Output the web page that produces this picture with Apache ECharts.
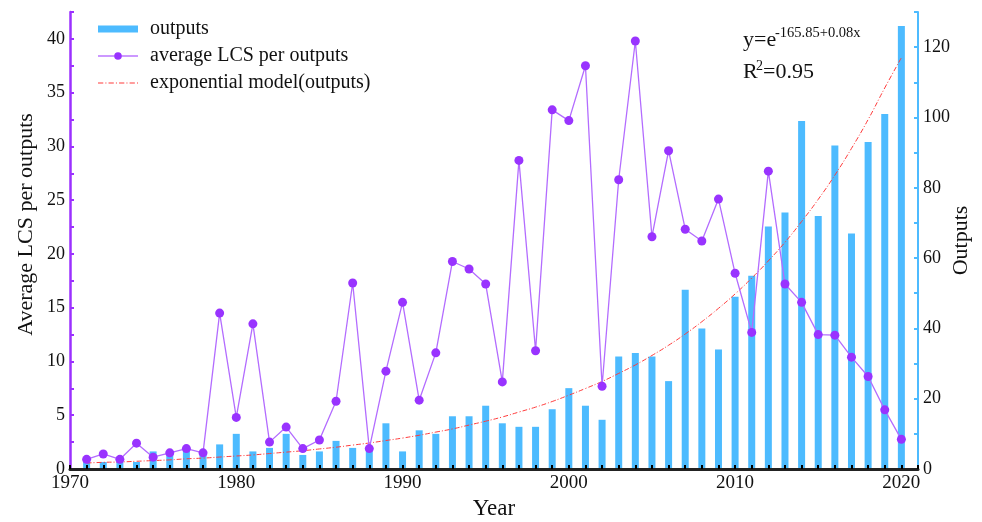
<!DOCTYPE html>
<html>
<head>
<meta charset="utf-8">
<script src="https://cdn.jsdelivr.net/npm/echarts@6/dist/echarts.min.js"></script>
<style>
html,body{margin:0;padding:0;background:#fff;}
#chart{width:982px;height:522px;}
</style>
</head>
<body>
<div id="chart"></div>
<script>
const years = [1971,1972,1973,1974,1975,1976,1977,1978,1979,1980,
  1981,1982,1983,1984,1985,1986,1987,1988,1989,1990,
  1991,1992,1993,1994,1995,1996,1997,1998,1999,2000,
  2001,2002,2003,2004,2005,2006,2007,2008,2009,2010,
  2011,2012,2013,2014,2015,2016,2017,2018,2019,2020];
const outputs = [2,2,2,2,5,5,6,4,7,10,
  5,6,10,4,5,8,6,6,13,5,
  11,10,15,15,18,13,12,12,17,23,
  18,14,32,33,32,25,51,40,34,49,
  55,69,73,99,72,92,67,93,101,126];
const avgLCS = [0.9,1.4,0.9,2.4,1.1,1.5,1.9,1.5,14.5,4.8,
  13.5,2.5,3.9,1.9,2.7,6.3,17.3,1.9,9.1,15.5,
  6.4,10.8,19.3,18.6,17.2,8.1,28.7,11.0,33.4,32.4,
  37.5,7.7,26.9,39.8,21.6,29.6,22.3,21.2,25.1,18.2,
  12.7,27.7,17.2,15.5,12.5,12.45,10.4,8.6,5.5,2.76];
const expModel = [1.7,1.9,2.0,2.2,2.4,2.6,2.9,3.1,3.4,3.7,
  4.0,4.4,4.8,5.2,5.7,6.2,6.8,7.4,8.1,8.8,
  9.6,10.5,11.4,12.5,13.6,14.8,16.2,17.6,19.2,21.0,
  22.9,24.9,27.2,29.6,32.3,35.2,38.4,41.9,45.7,49.8,
  54.3,59.2,64.5,70.4,76.7,83.6,91.2,99.4,108.4,117];
const seriesNames = ['outputs','average LCS per outputs','exponential model(outputs)'];
const eqMain = 'y=e';
const eqSup = '-165.85+0.08x';
const r2Text = ['R','2','=0.95'];

const FONT = 'Liberation Serif';
const BLUE = '#4DBBFF';
const PURPLE = '#9933FF';
const PURPLE_LINE = '#B36CFF';
const RED = '#FF3B3B';

const pair = (arr) => years.map((y, i) => [y, arr[i]]);

const chart = echarts.init(document.getElementById('chart'), null, {renderer: 'canvas'});
chart.setOption({
  animation: false,
  backgroundColor: '#fff',
  grid: {left: 70, right: 64, top: 12, bottom: 53, containLabel: false, outerBoundsMode: 'none'},
  legend: {
    orient: 'vertical',
    left: 93,
    top: 14,
    itemWidth: 40,
    itemHeight: 14,
    itemGap: 7,
    itemStyle: {borderWidth: 0},
    textStyle: {fontFamily: FONT, fontSize: 20, color: '#111', padding: [0, 0, 0, 7]},
    data: [
      {name: seriesNames[0], icon: 'path://M0,0H40V7H0Z'},
      {name: seriesNames[1], icon: 'path://M0,3.2H40V4.2H0Z M16.2,3.7A3.8,3.8 0 1 1 23.8,3.7A3.8,3.8 0 1 1 16.2,3.7Z'},
      {name: seriesNames[2], icon: 'path://M0,0H5V1H0Z M7,0H8V1H7Z M10,0H15V1H10Z M17,0H18V1H17Z M20,0H25V1H20Z M27,0H28V1H27Z M30,0H35V1H30Z M37,0H38V1H37Z'}
    ]
  },
  xAxis: {
    type: 'value',
    min: 1970,
    max: 2021,
    interval: 1,
    z: 5,
    name: 'Year',
    nameLocation: 'middle',
    nameGap: 28,
    nameTextStyle: {fontFamily: FONT, fontSize: 23, color: '#111'},
    axisLine: {onZero: false, lineStyle: {color: '#222', width: 3}},
    axisTick: {inside: true, length: 4, lineStyle: {color: '#000', width: 2}},
    axisLabel: {
      fontFamily: FONT, fontSize: 19, color: '#111', margin: 5,
      formatter: (v) => (v % 10 === 0 && v <= 2020) ? String(v) : ''
    },
    splitLine: {show: false}
  },
  yAxis: [
    {
      type: 'value',
      position: 'left',
      min: 0,
      max: 42.5,
      interval: 2.5,
      name: 'Average LCS per outputs',
      nameLocation: 'middle',
      nameGap: 33,
      nameMoveOverlap: false,
      nameRotate: 90,
      nameTextStyle: {fontFamily: FONT, fontSize: 22, color: '#111', padding: [0, 0, 0, 32]},
      axisLine: {show: true, lineStyle: {color: '#9B30FF', width: 2.5}},
      axisTick: {show: true, inside: true, length: 4, lineStyle: {color: '#9B30FF', width: 2}},
      axisLabel: {
        fontFamily: FONT, fontSize: 18, color: '#111', margin: 5,
        formatter: (v) => (Math.abs(v % 5) < 1e-9) ? String(v) : ''
      },
      splitLine: {show: false}
    },
    {
      type: 'value',
      position: 'right',
      min: 0,
      max: 130,
      interval: 10,
      name: 'Outputs',
      nameLocation: 'middle',
      nameGap: 32,
      nameMoveOverlap: false,
      nameRotate: 90,
      nameTextStyle: {fontFamily: FONT, fontSize: 22, color: '#111'},
      axisLine: {show: true, lineStyle: {color: BLUE, width: 2}},
      axisTick: {show: true, inside: true, length: 4, lineStyle: {color: BLUE, width: 2}},
      axisLabel: {
        fontFamily: FONT, fontSize: 18, color: '#111', margin: 5,
        formatter: (v) => (v % 20 === 0) ? String(v) : ''
      },
      splitLine: {show: false}
    }
  ],
  graphic: [
    {type: 'text', left: 743, top: 29, style: {text: eqMain, font: '22px "Liberation Serif"', fill: '#111'}},
    {type: 'text', left: 775, top: 26, style: {text: eqSup, font: '14.5px "Liberation Serif"', fill: '#111'}},
    {type: 'text', left: 743, top: 61, style: {text: r2Text[0], font: '22px "Liberation Serif"', fill: '#111'}},
    {type: 'text', left: 756, top: 59, style: {text: r2Text[1], font: '14px "Liberation Serif"', fill: '#111'}},
    {type: 'text', left: 763, top: 61, style: {text: r2Text[2], font: '22px "Liberation Serif"', fill: '#111'}}
  ],
  series: [
    {
      name: seriesNames[0],
      type: 'bar',
      yAxisIndex: 1,
      barWidth: 7,
      color: BLUE,
      itemStyle: {color: BLUE},
      data: pair(outputs),
      z: 2
    },
    {
      name: seriesNames[2],
      type: 'line',
      yAxisIndex: 1,
      smooth: true,
      showSymbol: false,
      symbol: 'none',
      color: RED,
      lineStyle: {color: RED, width: 1, type: [5, 2, 1, 2]},
      data: pair(expModel),
      z: 3
    },
    {
      name: seriesNames[1],
      type: 'line',
      yAxisIndex: 0,
      symbol: 'circle',
      symbolSize: 9,
      color: PURPLE,
      itemStyle: {color: PURPLE, borderWidth: 0},
      lineStyle: {color: PURPLE_LINE, width: 1.3},
      data: pair(avgLCS),
      z: 4
    }
  ]
});
</script>
</body>
</html>
